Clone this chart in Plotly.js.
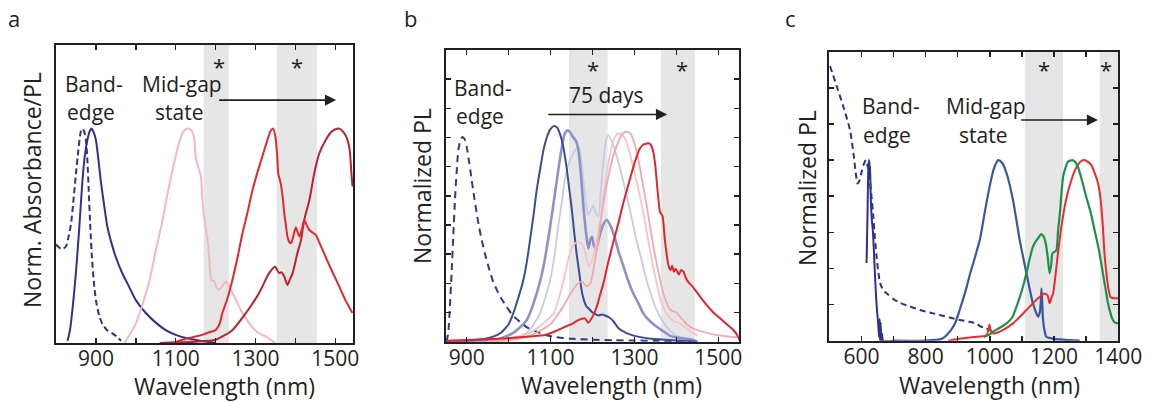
<!DOCTYPE html>
<html><head><meta charset="utf-8">
<script src="https://cdn.plot.ly/plotly-3.0.1.min.js"></script>
<style>body{margin:0;background:#fff}#chart{width:1151px;height:402px}</style>
</head><body><div id="chart"></div>
<script>
// ---------- Panel a ----------
const a_absWl = [800,805,812,818,825,832,838,844,850,856,862,866,870,875,879,882,886,890,895,900,908,916,928,941,952,963];
const a_absVal = [0.46,0.45,0.44,0.44,0.45,0.50,0.56,0.67,0.79,0.90,0.985,1.0,0.99,0.947,0.84,0.71,0.54,0.40,0.28,0.20,0.13,0.09,0.06,0.045,0.03,0.01];
const a_beWl = [829,835,842,850,858,866,872,879,885,889,894,900,906,912,920,929,940,950,965,983,1000,1025,1050,1075,1100,1134,1170,1200];
const a_beVal = [0.01,0.06,0.17,0.33,0.53,0.75,0.87,0.95,0.99,1.0,0.985,0.947,0.86,0.76,0.65,0.54,0.46,0.40,0.33,0.263,0.2,0.14,0.095,0.06,0.038,0.02,0.008,0.0];
const a_pinkWl = [971,985,1000,1017,1034,1050,1067,1082,1096,1108,1117,1125,1132,1140,1146,1150,1158,1163,1167,1174,1180,1184,1188,1192,1196,1202,1209,1218,1226,1235,1251,1267,1284,1305,1326,1350];
const a_pinkVal = [0.0,0.04,0.09,0.18,0.29,0.43,0.574,0.72,0.84,0.93,0.978,0.998,1.0,0.99,0.96,0.87,0.81,0.78,0.66,0.55,0.48,0.40,0.30,0.29,0.29,0.26,0.247,0.27,0.286,0.26,0.2,0.14,0.093,0.05,0.03,0.0];
const a_redWl = [1100,1125,1150,1170,1184,1192,1200,1210,1217,1230,1242,1255,1267,1280,1292,1307,1322,1332,1338,1344,1350,1354,1357,1363,1368,1372,1376,1380,1385,1389,1395,1401,1405,1410,1416,1422,1428,1435,1443,1451,1463,1476,1493,1510,1525,1543];
const a_redVal = [0.005,0.02,0.03,0.04,0.05,0.055,0.06,0.09,0.14,0.21,0.294,0.40,0.51,0.61,0.71,0.81,0.9,0.96,0.99,1.0,0.96,0.88,0.79,0.746,0.68,0.606,0.55,0.496,0.47,0.466,0.50,0.54,0.52,0.496,0.53,0.574,0.55,0.527,0.515,0.504,0.455,0.4,0.33,0.263,0.2,0.14];
const a_darkWl = [1060,1100,1150,1200,1242,1276,1309,1334,1349,1359,1365,1372,1380,1387,1393,1400,1405,1414,1422,1435,1447,1460,1476,1490,1500,1510,1520,1530,1536,1540,1543];
const a_darkVal = [0.0,0.003,0.006,0.015,0.06,0.14,0.233,0.326,0.356,0.326,0.33,0.31,0.27,0.30,0.326,0.38,0.42,0.48,0.574,0.667,0.79,0.886,0.947,0.985,0.997,1.0,0.985,0.95,0.9,0.8,0.73];
const a_bands = [[1170,1233],[1353,1454]];
const a_stars = [1209,1405];

// ---------- Panel b ----------
const b_absWl = [852,856,860,864,868,872,876,880,885,890,895,900,906,912,918,924,930,936,944,952,962,972,984,995,1010,1027,1045,1067,1090,1107,1150,1200,1250,1300,1350,1400,1440];
const b_absVal = [0.0,0.03,0.12,0.234,0.36,0.485,0.58,0.656,0.69,0.702,0.695,0.668,0.615,0.554,0.495,0.44,0.39,0.348,0.30,0.257,0.21,0.177,0.145,0.12,0.09,0.068,0.048,0.034,0.022,0.017,0.01,0.007,0.005,0.004,0.003,0.002,0.0];
const b_d0Wl = [850,900,950,980,1000,1011,1023,1035,1043,1051,1059,1067,1075,1083,1091,1099,1107,1115,1122,1130,1138,1144,1150,1156,1162,1168,1174,1180,1186,1192,1198,1206,1214,1222,1230,1240,1250,1262,1280,1300,1340,1400,1450];
const b_d0Val = [0.0,0.003,0.012,0.029,0.06,0.097,0.15,0.211,0.27,0.348,0.43,0.52,0.59,0.656,0.70,0.727,0.739,0.735,0.714,0.67,0.6,0.53,0.462,0.38,0.303,0.24,0.177,0.14,0.12,0.112,0.103,0.095,0.09,0.093,0.09,0.083,0.07,0.046,0.03,0.02,0.01,0.004,0.0];
const b_d1Wl = [900,967,1011,1043,1067,1083,1099,1115,1127,1134,1141,1148,1154,1160,1166,1172,1178,1184,1190,1195,1199,1203,1208,1213,1218,1225,1234,1242,1250,1262,1274,1285,1297,1310,1321,1337,1353,1370,1385,1410,1433,1450];
const b_d1Val = [0.0,0.005,0.03,0.074,0.166,0.257,0.394,0.554,0.668,0.714,0.725,0.715,0.70,0.69,0.66,0.58,0.47,0.38,0.32,0.35,0.36,0.33,0.32,0.34,0.37,0.40,0.417,0.40,0.371,0.31,0.257,0.21,0.166,0.13,0.097,0.07,0.051,0.035,0.02,0.012,0.008,0.0];
const b_d2Wl = [950,1000,1043,1060,1075,1087,1099,1110,1118,1127,1134,1146,1156,1166,1172,1178,1184,1190,1196,1202,1208,1214,1220,1226,1232,1238,1248,1258,1270,1282,1294,1305,1317,1329,1341,1353,1365,1377,1401,1432,1445];
const b_d2Val = [0.0,0.01,0.03,0.06,0.097,0.15,0.211,0.3,0.394,0.48,0.554,0.622,0.65,0.67,0.64,0.56,0.48,0.434,0.45,0.468,0.44,0.43,0.52,0.62,0.69,0.708,0.68,0.634,0.57,0.497,0.42,0.348,0.28,0.211,0.155,0.109,0.075,0.05,0.02,0.01,0.0];
const b_d3Wl = [950,1000,1050,1080,1107,1120,1131,1146,1158,1166,1174,1182,1190,1196,1202,1208,1214,1222,1230,1240,1250,1260,1270,1280,1290,1300,1310,1320,1330,1340,1350,1365,1375,1385,1395,1405,1420,1440,1450];
const b_d3Val = [0.0,0.01,0.03,0.06,0.097,0.15,0.211,0.303,0.337,0.342,0.335,0.31,0.257,0.27,0.29,0.33,0.371,0.45,0.54,0.63,0.69,0.714,0.71,0.69,0.64,0.58,0.52,0.45,0.37,0.29,0.22,0.13,0.1,0.08,0.07,0.065,0.05,0.03,0.02];
const b_d4Wl = [950,1000,1050,1100,1130,1150,1165,1176,1186,1195,1205,1213,1220,1230,1240,1250,1260,1270,1278,1290,1300,1310,1320,1330,1340,1350,1360,1370,1385,1400,1412,1425,1440,1460,1500,1550];
const b_d4Val = [0.0,0.005,0.02,0.06,0.12,0.17,0.2,0.205,0.19,0.2,0.27,0.34,0.42,0.51,0.58,0.64,0.68,0.71,0.719,0.715,0.68,0.62,0.54,0.46,0.37,0.29,0.22,0.16,0.11,0.1,0.08,0.06,0.045,0.035,0.022,0.015];
const b_d5Wl = [850,950,1000,1050,1087,1110,1134,1150,1166,1182,1190,1202,1210,1218,1226,1234,1244,1254,1264,1274,1284,1294,1303,1313,1321,1329,1334,1339,1345,1350,1355,1361,1367,1373,1381,1386,1390,1394,1398,1402,1406,1411,1417,1422,1428,1438,1448,1460,1472,1488,1504,1520,1536,1548,1550];
const b_d5Val = [0.003,0.008,0.012,0.018,0.023,0.035,0.051,0.06,0.074,0.08,0.065,0.091,0.12,0.16,0.2,0.251,0.31,0.365,0.42,0.479,0.53,0.582,0.625,0.662,0.676,0.679,0.68,0.675,0.65,0.6,0.52,0.445,0.43,0.342,0.263,0.245,0.26,0.24,0.25,0.24,0.23,0.245,0.24,0.22,0.205,0.19,0.171,0.148,0.126,0.1,0.08,0.06,0.04,0.015,0.005];
const b_bands = [[1144,1236],[1363,1444]];
const b_stars = [1202,1413];

// ---------- Panel c ----------
const c_absWl = [502,510,523,543,564,575,583,588,595,600,608,614,619,626,632,637,642,647,652,658,668,680,700,720,750,782,815,844,875,906,935,958,970,985,1000,1010];
const c_absVal = [1.52,1.48,1.41,1.30,1.17,1.04,0.92,0.87,0.89,0.93,0.98,1.0,0.97,0.89,0.79,0.69,0.57,0.47,0.39,0.32,0.28,0.26,0.23,0.21,0.19,0.17,0.155,0.142,0.128,0.115,0.105,0.096,0.08,0.07,0.06,0.045];
const c_beWl = [616,619,621,623,625,626,627,629,632,636,640,644,648,652,655,657,658,660,662,664,668,700];
const c_beVal = [0.43,0.7,0.92,1.0,0.98,0.9,0.97,0.8,0.68,0.6,0.45,0.3,0.18,0.1,0.02,0.12,0.0,0.1,0.0,0.04,0.0,0.0];
const c_mgWl = [700,800,850,865,890,906,925,940,955,969,985,1000,1012,1026,1038,1052,1072,1093,1114,1134,1150,1156,1161,1165,1170,1176,1200,1250,1280];
const c_mgVal = [0.0,0.0,0.01,0.03,0.09,0.17,0.28,0.38,0.47,0.56,0.72,0.86,0.95,1.0,0.985,0.927,0.779,0.557,0.373,0.207,0.133,0.16,0.29,0.13,0.06,0.022,0.01,0.003,0.0];
const c_grWl = [980,1000,1010,1030,1052,1070,1083,1100,1114,1125,1134,1143,1150,1160,1168,1175,1181,1186,1191,1195,1207,1212,1218,1228,1236,1243,1257,1266,1274,1288,1300,1314,1326,1340,1352,1360,1368,1376,1383,1390,1400];
const c_grVal = [0.02,0.035,0.05,0.07,0.096,0.13,0.188,0.28,0.373,0.46,0.52,0.55,0.567,0.59,0.575,0.53,0.45,0.373,0.42,0.484,0.5,0.6,0.705,0.908,0.96,0.991,1.0,0.99,0.963,0.88,0.797,0.71,0.613,0.5,0.373,0.29,0.207,0.15,0.115,0.1,0.096];
const c_rdWl = [870,900,950,990,996,999,1003,1010,1031,1072,1114,1150,1171,1180,1186,1192,1197,1205,1212,1222,1233,1244,1254,1264,1274,1285,1295,1305,1316,1326,1337,1345,1352,1357,1363,1369,1375,1384,1392,1400];
const c_rdVal = [0.0,0.01,0.02,0.03,0.07,0.09,0.05,0.04,0.05,0.096,0.17,0.235,0.262,0.25,0.207,0.24,0.262,0.37,0.484,0.62,0.742,0.83,0.89,0.94,0.973,0.995,1.0,0.99,0.973,0.93,0.87,0.78,0.631,0.48,0.373,0.29,0.244,0.235,0.235,0.235];
const c_bands = [[1109,1228],[1342,1400]];
const c_stars = [1169,1363];

// ---------- Build ----------
const W = 1151, H = 402;
const FONT = 'Open Sans, Noto Sans, sans-serif';
const px = x => x / W, py = y => 1 - y / H;

function line(x, y, xa, ya, color, width, dash) {
  return {x, y, xaxis: xa, yaxis: ya, type: 'scatter', mode: 'lines',
    line: {color, width, dash: dash || 'solid', shape: 'spline', smoothing: 0.6}, hoverinfo: 'skip'};
}
const NAVY = '#2e3192';
const traces = [
  line(a_absWl, a_absVal, 'x', 'y', NAVY, 2, '6px,3.5px'),
  line(a_beWl, a_beVal, 'x', 'y', NAVY, 2),
  line(a_pinkWl, a_pinkVal, 'x', 'y', '#f3b7bc', 2),
  line(a_darkWl, a_darkVal, 'x', 'y', '#b8232f', 2),
  line(a_redWl, a_redVal, 'x', 'y', '#e4262d', 2),

  line(b_absWl, b_absVal, 'x2', 'y2', '#2e3a87', 2, '7px,5px'),
  line(b_d2Wl, b_d2Val, 'x2', 'y2', '#c8cbe6', 1.8),
  line(b_d1Wl, b_d1Val, 'x2', 'y2', '#8d91c6', 2.6),
  line(b_d0Wl, b_d0Val, 'x2', 'y2', '#3d4a9e', 2),
  line(b_d3Wl, b_d3Val, 'x2', 'y2', '#f6c3c6', 1.8),
  line(b_d4Wl, b_d4Val, 'x2', 'y2', '#f2a7ac', 1.8),
  line(b_d5Wl, b_d5Val, 'x2', 'y2', '#e4242b', 2),

  line(c_absWl, c_absVal, 'x3', 'y3', NAVY, 2, '6px,4px'),
  line(c_beWl, c_beVal, 'x3', 'y3', NAVY, 2),
  line(c_mgWl, c_mgVal, 'x3', 'y3', '#3a55a6', 2.2),
  line(c_rdWl, c_rdVal, 'x3', 'y3', '#ec2a2e', 2),
  line(c_grWl, c_grVal, 'x3', 'y3', '#1e9146', 2.2)
];

function xax(domain, range, vals, labelled, anchor) {
  return {domain, range, anchor, tickvals: vals,
    ticktext: vals.map(v => labelled.includes(v) ? String(v) : ''),
    ticks: 'inside', ticklen: 5, tickwidth: 1.5, tickcolor: '#231f20', ticklabelstandoff: -4,
    showline: true, linecolor: '#231f20', linewidth: 2, mirror: 'ticks',
    showgrid: false, zeroline: false, fixedrange: true,
    tickfont: {family: FONT, size: 21, color: '#231f20'}};
}
function yax(domain, range, dtick, anchor) {
  const o = {domain, range, anchor, showticklabels: false,
    showline: true, linecolor: '#231f20', linewidth: 2, mirror: 'ticks',
    showgrid: false, zeroline: false, fixedrange: true};
  if (dtick) { o.ticks = 'inside'; o.dtick = dtick; o.tick0 = 0; o.ticklen = 5; o.tickwidth = 1.5; o.tickcolor = '#231f20'; }
  else { o.ticks = ''; }
  return o;
}

const layout = {
  width: W, height: H, margin: {l: 0, r: 0, t: 0, b: 0},
  paper_bgcolor: '#fff', plot_bgcolor: 'rgba(0,0,0,0)', showlegend: false,
  font: {family: FONT, color: '#231f20'},
  xaxis: xax([px(56), px(353.3)], [800, 1545], [800,900,1000,1100,1200,1300,1400,1500], [900,1100,1300,1500], 'y'),
  yaxis: yax([py(343), py(45)], [0, 1.39], null, 'x'),
  xaxis2: xax([px(445.7), px(739.3)], [850, 1550], [900,1000,1100,1200,1300,1400,1500], [900,1100,1300,1500], 'y2'),
  yaxis2: yax([py(341.7), py(50)], [0, 1], 0.1, 'x2'),
  xaxis3: xax([px(829.3), px(1118.3)], [500, 1400], [600,700,800,900,1000,1100,1200,1300,1400], [600,800,1000,1200,1400], 'y3'),
  yaxis3: yax([py(340.7), py(51.7)], [0, 1.6], 0.2, 'x3'),
  shapes: [], annotations: []
};

function bands(list, xr, yr) {
  list.forEach(b => layout.shapes.push({type: 'rect', layer: 'below', xref: xr, yref: yr + ' domain',
    x0: b[0], x1: b[1], y0: 0, y1: 1, fillcolor: '#e6e6e6', line: {width: 0}}));
}
bands(a_bands, 'x', 'y'); bands(b_bands, 'x2', 'y2'); bands(c_bands, 'x3', 'y3');

function txt(text, x, y, size, extra) {
  layout.annotations.push(Object.assign({text, x: px(x), y: py(y), xref: 'paper', yref: 'paper',
    xanchor: 'center', yanchor: 'middle', showarrow: false,
    font: {family: FONT, size, color: '#231f20'}}, extra || {}));
}
function star(xv, xr, yPix) {
  layout.annotations.push({text: '*', x: xv, xref: xr, y: py(yPix), yref: 'paper',
    xanchor: 'center', yanchor: 'middle', showarrow: false, font: {family: FONT, size: 22, color: '#231f20'}});
}
function arrow(x0, x1, yv, xr, yr) {
  layout.annotations.push({text: '', x: x1, y: yv, ax: x0, ay: yv, xref: xr, yref: yr, axref: xr, ayref: yr,
    showarrow: true, arrowhead: 2, arrowsize: 1.4, arrowwidth: 1.6, arrowcolor: '#231f20', standoff: 0, startstandoff: 0});
}

// panel letters
txt('a', 14, 18, 22); txt('b', 410, 18, 22); txt('c', 790, 18, 22);
// axis titles
txt('Norm. Absorbance/PL', 32, 190, 23, {textangle: -90});
txt('Normalized PL', 422, 186, 23, {textangle: -90});
txt('Normalized PL', 807, 188, 23, {textangle: -90});
txt('Wavelength (nm)', 224, 386, 23);
txt('Wavelength (nm)', 611, 385, 23);
txt('Wavelength (nm)', 989, 385, 23);
// labels
txt('Band-', 94, 84, 21); txt('edge', 91, 112, 21);
txt('Mid-gap', 182, 84, 21); txt('state', 179, 112, 21);
txt('Band-', 483, 88, 21); txt('edge', 480, 116, 21);
txt('75 days', 606, 95, 21);
txt('Band-', 891, 106, 21); txt('edge', 887, 135, 21);
txt('Mid-gap', 986, 106, 21); txt('state', 983, 135, 21);
// stars
a_stars.forEach(s => star(s, 'x', 66));
b_stars.forEach(s => star(s, 'x2', 69));
c_stars.forEach(s => star(s, 'x3', 69));
// arrows
arrow(1205, 1502, 1.133, 'x', 'y');
arrow(1091, 1378, 0.779, 'x2', 'y2');
arrow(1093, 1337, 1.222, 'x3', 'y3');

Plotly.newPlot('chart', traces, layout, {staticPlot: true, displayModeBar: false});
</script></body></html>
